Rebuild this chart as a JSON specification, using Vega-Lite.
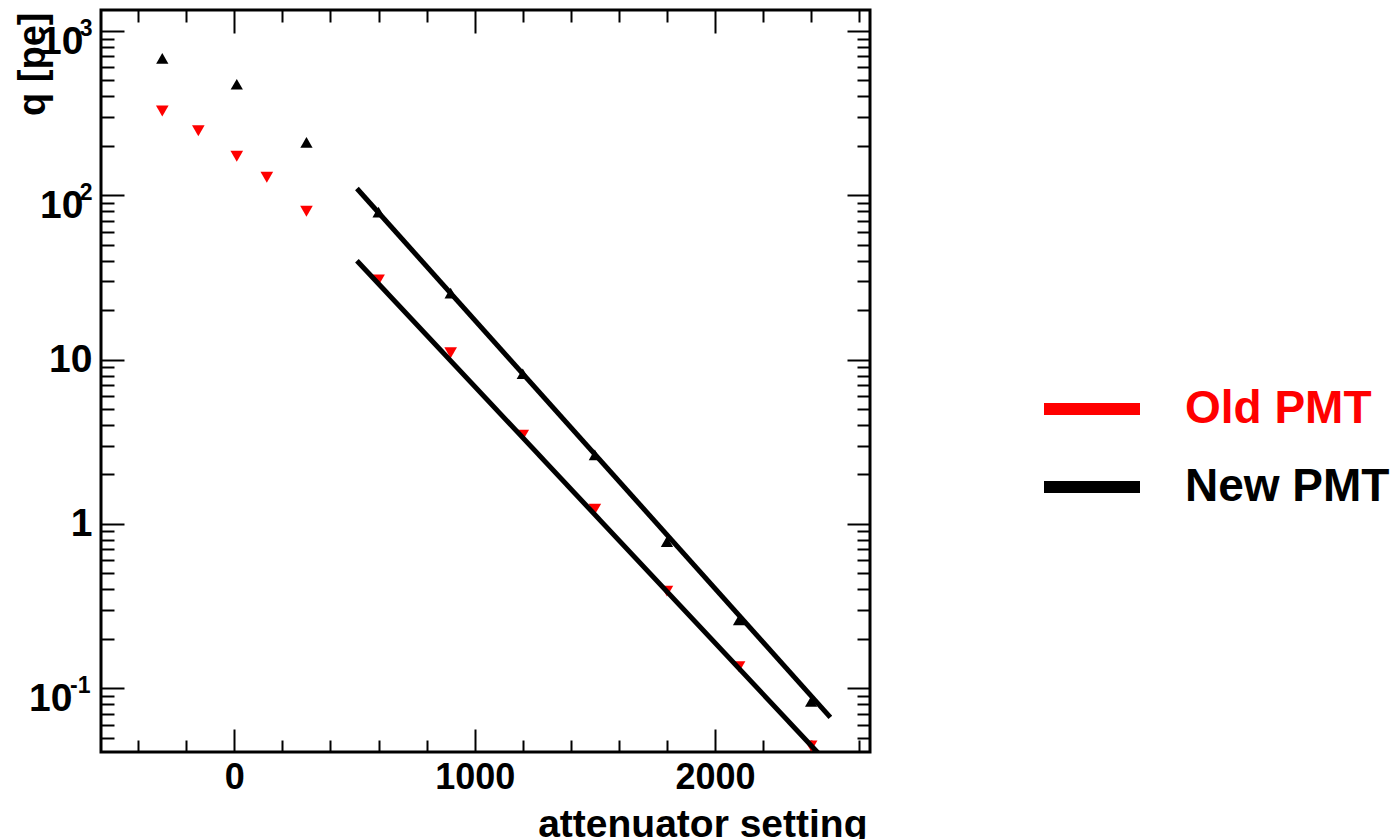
{
  "$schema": "https://vega.github.io/schema/vega-lite/v6.json",
  "width": 769,
  "height": 742,
  "autosize": {"type": "none"},
  "padding": {"left": 101, "top": 10, "right": 530, "bottom": 87},
  "background": "white",
  "config": {
    "view": {"stroke": "black", "strokeWidth": 3},
    "font": "Liberation Sans",
    "axis": {
      "domain": false,
      "grid": false,
      "tickColor": "black",
      "tickWidth": 2,
      "labelFont": "Liberation Sans",
      "labelFontWeight": "bold",
      "labelColor": "black",
      "titleFont": "Liberation Sans",
      "titleFontWeight": "bold",
      "titleColor": "black",
      "labelFlush": false,
      "labelOverlap": false
    },
    "legend": {
      "orient": "none", "legendX": 937, "legendY": 345, "title": null,
      "symbolType": "stroke", "symbolSize": 9216, "symbolStrokeWidth": 12,
      "labelFont": "Liberation Sans", "labelFontWeight": "bold", "labelFontSize": 46,
      "labelOffset": 39, "labelLimit": 600, "rowPadding": -20, "padding": 0
    }
  },
  "datasets": {
    "points": [
      {"x": -300, "q": 326, "series": "Old PMT"},
      {"x": -150, "q": 247, "series": "Old PMT"},
      {"x": 10, "q": 173, "series": "Old PMT"},
      {"x": 135, "q": 129, "series": "Old PMT"},
      {"x": 300, "q": 80, "series": "Old PMT"},
      {"x": 600, "q": 30.5, "series": "Old PMT"},
      {"x": 900, "q": 11, "series": "Old PMT"},
      {"x": 1200, "q": 3.47, "series": "Old PMT"},
      {"x": 1500, "q": 1.23, "series": "Old PMT"},
      {"x": 1800, "q": 0.39, "series": "Old PMT"},
      {"x": 2100, "q": 0.135, "series": "Old PMT"},
      {"x": 2400, "q": 0.0445, "series": "Old PMT"},
      {"x": -300, "q": 682, "series": "New PMT"},
      {"x": 10, "q": 474, "series": "New PMT"},
      {"x": 300, "q": 210, "series": "New PMT"},
      {"x": 600, "q": 79, "series": "New PMT"},
      {"x": 900, "q": 25.4, "series": "New PMT"},
      {"x": 1200, "q": 8.2, "series": "New PMT"},
      {"x": 1500, "q": 2.63, "series": "New PMT"},
      {"x": 1800, "q": 0.78, "series": "New PMT"},
      {"x": 2100, "q": 0.26, "series": "New PMT"},
      {"x": 2400, "q": 0.083, "series": "New PMT"}
    ],
    "fit": [
      {"x": 510, "q": 40, "fit": "old"},
      {"x": 2480, "q": 0.0336, "fit": "old"},
      {"x": 510, "q": 110, "fit": "new"},
      {"x": 2480, "q": 0.0665, "fit": "new"}
    ]
  },
  "layer": [
    {
      "data": {"name": "points"},
      "transform": [{"filter": "datum.series === 'Old PMT'"}],
      "mark": {"type": "point", "shape": "triangle-down", "filled": true, "size": 160, "opacity": 1, "clip": true},
      "encoding": {
        "x": {
          "field": "x", "type": "quantitative",
          "scale": {"domain": [-555, 2645], "nice": false, "zero": false},
          "axis": {
            "orient": "bottom", "values": [0, 1000, 2000], "format": "d",
            "tickSize": -23, "labelPadding": 31, "labelFontSize": 36,
            "title": "attenuator setting", "titleFontSize": 39,
            "titleX": 766, "titleY": 84, "titleAlign": "right", "titleBaseline": "alphabetic", "titleAnchor": "end"
          }
        },
        "y": {
          "field": "q", "type": "quantitative",
          "scale": {"type": "log", "domain": [0.0409, 1343], "nice": false},
          "axis": {
            "orient": "left", "values": [0.1, 1, 10, 100, 1000],
            "tickSize": -23,
            "labelExpr": "datum.value == 1 ? '1' : '10'",
            "labelFontSize": 39,
            "labelBaseline": "middle",
            "labelPadding": {"condition": [{"test": "datum.value < 0.5", "value": 52}, {"test": "datum.value > 50", "value": 41}], "value": 32},
            "labelOffset": {"condition": {"test": "datum.value < 0.5 || datum.value > 50", "value": 10}, "value": 0},
            "title": "q [pe]", "titleFontSize": 38, "titleAngle": 270,
            "titleX": -57, "titleY": 2, "titleAlign": "right", "titleBaseline": "alphabetic", "titleAnchor": "end"
          }
        },
        "color": {
          "field": "series", "type": "nominal",
          "scale": {"domain": ["Old PMT", "New PMT"], "range": ["#ff0000", "#000000"]},
          "legend": {
            "labelColor": {"expr": "datum.value === 'Old PMT' ? '#ff0000' : '#000000'"},
            "symbolStrokeColor": {"expr": "datum.value === 'Old PMT' ? '#ff0000' : '#000000'"},
            "encode": {
              "symbols": {
                "stroke": {"condition": {"test": "datum.value === 'Old PMT'", "value": "#ff0000"}, "value": "#000000"},
                "strokeWidth": {"value": 12}
              },
              "labels": {
                "fill": {"condition": {"test": "datum.value === 'Old PMT'", "value": "#ff0000"}, "value": "#000000"}
              }
            }
          }
        }
      }
    },
    {
      "data": {"name": "points"},
      "transform": [{"filter": "datum.series === 'New PMT'"}],
      "mark": {"type": "point", "shape": "triangle-up", "filled": true, "size": 150, "opacity": 1, "clip": true},
      "encoding": {
        "x": {
          "field": "x", "type": "quantitative",
          "scale": {"domain": [-555, 2645], "nice": false, "zero": false},
          "axis": {"orient": "bottom", "values": [-400, -200, 200, 400, 600, 800, 1200, 1400, 1600, 1800, 2200, 2400, 2600], "tickSize": -12, "labels": false, "title": null}
        },
        "y": {
          "field": "q", "type": "quantitative",
          "scale": {"type": "log", "domain": [0.0409, 1343], "nice": false},
          "axis": {"orient": "left", "values": [0.05, 0.06, 0.07, 0.08, 0.09, 0.2, 0.3, 0.4, 0.5, 0.6, 0.7, 0.8, 0.9, 2, 3, 4, 5, 6, 7, 8, 9, 20, 30, 40, 50, 60, 70, 80, 90, 200, 300, 400, 500, 600, 700, 800, 900], "tickSize": -13, "labels": false, "title": null}
        },
        "color": {
          "field": "series", "type": "nominal",
          "scale": {"domain": ["Old PMT", "New PMT"], "range": ["#ff0000", "#000000"]},
          "legend": {
            "labelColor": {"expr": "datum.value === 'Old PMT' ? '#ff0000' : '#000000'"},
            "symbolStrokeColor": {"expr": "datum.value === 'Old PMT' ? '#ff0000' : '#000000'"},
            "encode": {
              "symbols": {
                "stroke": {"condition": {"test": "datum.value === 'Old PMT'", "value": "#ff0000"}, "value": "#000000"},
                "strokeWidth": {"value": 12}
              },
              "labels": {
                "fill": {"condition": {"test": "datum.value === 'Old PMT'", "value": "#ff0000"}, "value": "#000000"}
              }
            }
          }
        }
      }
    },
    {
      "data": {"name": "fit"},
      "mark": {"type": "line", "color": "black", "strokeWidth": 5, "clip": true},
      "encoding": {
        "x": {
          "field": "x", "type": "quantitative",
          "scale": {"domain": [-555, 2645], "nice": false, "zero": false},
          "axis": {"orient": "top", "values": [0, 1000, 2000], "tickSize": -23, "labels": false, "title": null}
        },
        "y": {
          "field": "q", "type": "quantitative",
          "scale": {"type": "log", "domain": [0.0409, 1343], "nice": false},
          "axis": {"orient": "right", "values": [0.1, 1, 10, 100, 1000], "tickSize": -23, "labels": false, "title": null}
        },
        "detail": {"field": "fit", "type": "nominal"}
      }
    },
    {
      "data": {"name": "fit"},
      "mark": {"type": "line", "opacity": 0, "clip": true},
      "encoding": {
        "x": {
          "field": "x", "type": "quantitative",
          "scale": {"domain": [-555, 2645], "nice": false, "zero": false},
          "axis": {"orient": "top", "values": [-400, -200, 200, 400, 600, 800, 1200, 1400, 1600, 1800, 2200, 2400, 2600], "tickSize": -12, "labels": false, "title": null}
        },
        "y": {
          "field": "q", "type": "quantitative",
          "scale": {"type": "log", "domain": [0.0409, 1343], "nice": false},
          "axis": {"orient": "right", "values": [0.05, 0.06, 0.07, 0.08, 0.09, 0.2, 0.3, 0.4, 0.5, 0.6, 0.7, 0.8, 0.9, 2, 3, 4, 5, 6, 7, 8, 9, 20, 30, 40, 50, 60, 70, 80, 90, 200, 300, 400, 500, 600, 700, 800, 900], "tickSize": -13, "labels": false, "title": null}
        },
        "detail": {"field": "fit", "type": "nominal"}
      }
    },
    {
      "data": {"name": "fit"},
      "mark": {"type": "line", "opacity": 0, "clip": true},
      "encoding": {
        "x": {
          "field": "x", "type": "quantitative",
          "scale": {"domain": [-555, 2645], "nice": false, "zero": false},
          "axis": null
        },
        "y": {
          "field": "q", "type": "quantitative",
          "scale": {"type": "log", "domain": [0.0409, 1343], "nice": false},
          "axis": {
            "orient": "left", "values": [0.1, 100, 1000], "ticks": false,
            "labelExpr": "datum.value < 0.5 ? '-1' : (datum.value < 500 ? '2' : '3')",
            "labelFontSize": 23, "labelBaseline": "middle",
            "labelPadding": {"condition": {"test": "datum.value < 0.5", "value": 11}, "value": 9},
            "labelOffset": -3, "title": null
          }
        },
        "detail": {"field": "fit", "type": "nominal"}
      }
    }
  ],
  "resolve": {"axis": {"x": "independent", "y": "independent"}}
}
